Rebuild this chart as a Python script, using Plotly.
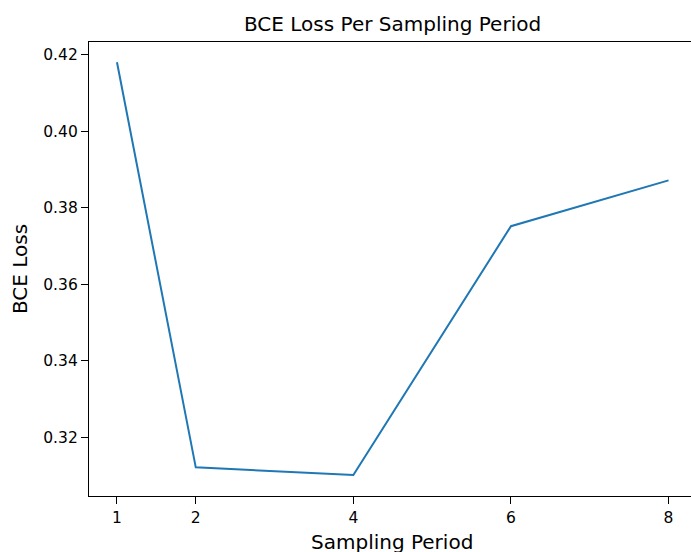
import plotly.graph_objects as go

periods = [1, 2, 4, 6, 8]
bce_loss = [0.4181, 0.3121, 0.3101, 0.3752, 0.3872]
x_ticks = [1, 2, 4, 6, 8]
y_ticks = [0.32, 0.34, 0.36, 0.38, 0.40, 0.42]

fig = go.Figure()
fig.add_trace(go.Scatter(x=periods, y=bce_loss, mode="lines",
                         line=dict(color="#1f77b4", width=2)))

font = "DejaVu Sans, sans-serif"
fig.update_layout(
    width=691, height=552,
    margin=dict(l=89, r=0, t=42, b=56),
    paper_bgcolor="white", plot_bgcolor="white",
    showlegend=False,
    font=dict(family=font, color="black", size=15.5),
)
fig.update_xaxes(range=[0.645, 8.285], tickvals=x_ticks,
                 ticktext=[str(v) for v in x_ticks],
                 showgrid=False, zeroline=False,
                 showline=True, mirror=True, linecolor="black", linewidth=1.3,
                 ticks="outside", ticklen=7, tickcolor="black",
                 tickfont=dict(size=15.5))
fig.update_yaxes(range=[0.3046, 0.4234], tickvals=y_ticks,
                 ticktext=[f"{v:.2f}" for v in y_ticks],
                 showgrid=False, zeroline=False,
                 showline=True, linecolor="black", linewidth=1.3,
                 ticks="outside", ticklen=7, tickcolor="black",
                 tickfont=dict(size=15.5))

fig.add_annotation(text="BCE Loss Per Sampling Period", xref="paper", yref="paper",
                   x=0.504, y=1, yshift=4, xanchor="center", yanchor="bottom",
                   showarrow=False, font=dict(size=20, family=font))
fig.add_annotation(text="Sampling Period", xref="paper", yref="paper",
                   x=0.504, y=0, yshift=-32, xanchor="center", yanchor="top",
                   showarrow=False, font=dict(size=20, family=font))
fig.add_annotation(text="BCE Loss", xref="paper", yref="paper",
                   x=0, xshift=-69, y=0.5, xanchor="center", yanchor="middle",
                   textangle=-90, showarrow=False, font=dict(size=20, family=font))

fig.write_html("out.html",
               config={"displayModeBar": False},
               post_script="document.body.style.margin='0';document.body.style.overflow='hidden';")
